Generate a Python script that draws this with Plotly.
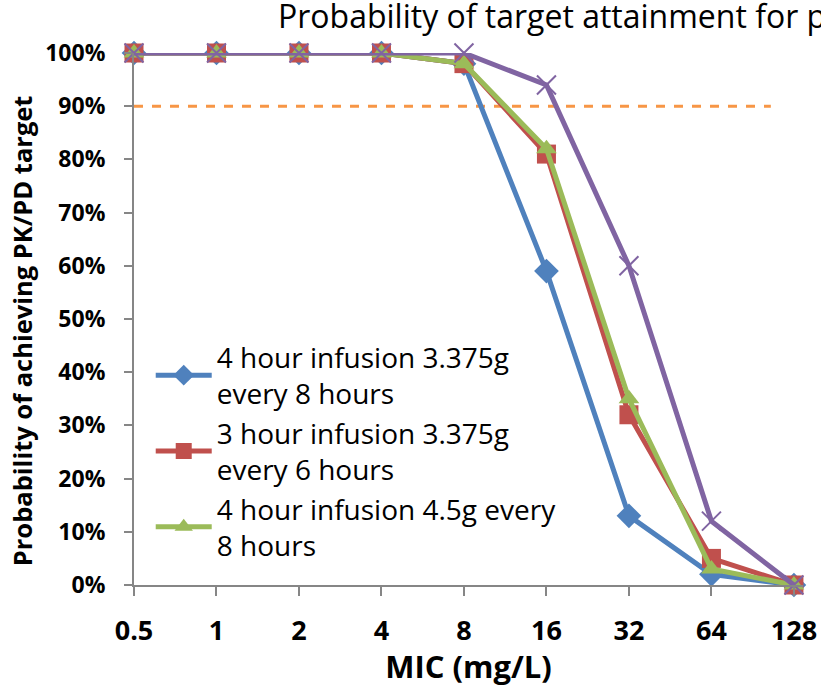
import plotly.graph_objects as go

# MIC breakpoints (mg/L) shown as evenly spaced categories
mic_labels = ["0.5", "1", "2", "4", "8", "16", "32", "64", "128"]

# Probability of target attainment for each dosing regimen
pta_4h_3375_q8 = [1.00, 1.00, 1.00, 1.00, 0.98, 0.59, 0.13, 0.02, 0.00]
pta_3h_3375_q6 = [1.00, 1.00, 1.00, 1.00, 0.98, 0.81, 0.32, 0.05, 0.00]
pta_4h_45_q8 = [1.00, 1.00, 1.00, 1.00, 0.98, 0.82, 0.35, 0.03, 0.00]
pta_extra = [1.00, 1.00, 1.00, 1.00, 1.00, 0.94, 0.60, 0.12, 0.00]

target_level = 0.90
y_ticks = [i / 10 for i in range(11)]

pos = list(range(len(mic_labels)))
FONT = "Open Sans, sans-serif"

fig = go.Figure()

series = [
    ("4 hour infusion 3.375g<br>every 8 hours", pta_4h_3375_q8, "#4F81BD",
     dict(symbol="diamond", size=19), True),
    ("3 hour infusion 3.375g<br>every 6 hours", pta_3h_3375_q6, "#C0504D",
     dict(symbol="square", size=19), True),
    ("4 hour infusion 4.5g every<br>8 hours", pta_4h_45_q8, "#9BBB59",
     dict(symbol="triangle-up", size=18), True),
    ("4 hour infusion 4.5g every 6 hours", pta_extra, "#8064A2",
     dict(symbol="x-thin", size=19, line=dict(width=2, color="#8064A2")), False),
]

for name, vals, color, marker, show in series:
    fig.add_trace(go.Scatter(
        x=pos, y=vals, name=name, mode="lines+markers",
        line=dict(color=color, width=5),
        marker=dict(color=color, **marker),
        showlegend=show, cliponaxis=False,
    ))

# Target attainment threshold
fig.add_shape(type="line", xref="x", yref="y", x0=0, x1=7.72,
              y0=target_level, y1=target_level,
              line=dict(color="#F79646", width=3, dash="dash"), layer="below")

# Vertical axis title
fig.add_annotation(text="<b>Probability of achieving PK/PD target</b>",
                   xref="paper", yref="paper", x=-112 / 669, y=0.477,
                   xanchor="center", yanchor="middle", textangle=-90,
                   showarrow=False, font=dict(size=25.5, family=FONT))

fig.update_layout(
    width=821, height=687,
    margin=dict(l=134, r=18, t=53, b=102, autoexpand=False),
    plot_bgcolor="white", paper_bgcolor="white",
    font=dict(family=FONT, color="black"),
    title=dict(text="Probability of target attainment for piperacillin/tazobactam",
               xref="container", x=278 / 821, xanchor="left",
               yref="container", y=1 - 6 / 687, yanchor="top",
               font=dict(size=32, family=FONT)),
    legend=dict(x=0.025, y=0.475, xanchor="left", yanchor="top",
                bgcolor="rgba(0,0,0,0)", font=dict(size=28, family=FONT),
                itemwidth=56, tracegroupgap=0),
    xaxis=dict(range=[0, 8.11], tickmode="array", tickvals=pos,
               ticktext=[f"<b>{t}</b>" for t in mic_labels],
               showline=True, linecolor="#868686", linewidth=2,
               ticks="outside", ticklen=9, tickcolor="#868686", tickwidth=2,
               ticklabelstandoff=12, automargin=False,
               showgrid=False, zeroline=False,
               tickfont=dict(size=27, family=FONT),
               title=dict(text="<b>MIC (mg/L)</b>", font=dict(size=31, family=FONT),
                          standoff=4)),
    yaxis=dict(range=[0, 1], tickmode="array", tickvals=y_ticks,
               ticktext=[f"<b>{round(v * 100)}%</b>" for v in y_ticks],
               showline=True, linecolor="#868686", linewidth=2,
               ticks="outside", ticklen=8, tickcolor="#868686", tickwidth=2,
               ticklabelstandoff=14, automargin=False,
               showgrid=False, zeroline=False,
               tickfont=dict(size=23, family=FONT)),
)

fig.write_html("out.html")
